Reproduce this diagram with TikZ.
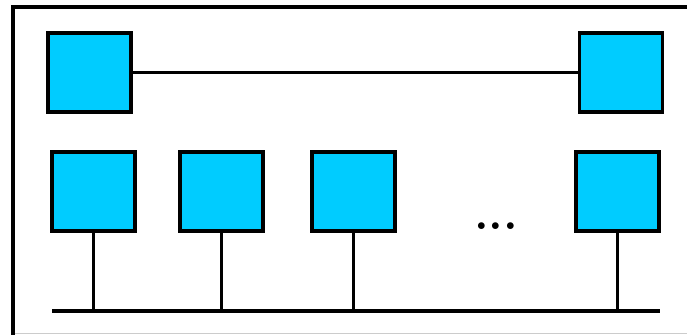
\documentclass[tikz,border=0pt]{standalone}
\usepackage{xcolor}
\usepackage{tikz}
\usetikzlibrary{calc}
\definecolor{boxcyan}{HTML}{00CCFF}
\tikzset{
  hostbox/.style={draw=black,fill=boxcyan,line width=3pt,
    minimum width=2.49cm,minimum height=2.37cm,inner sep=0pt},
  linkline/.style={line width=2.9pt},
  busline/.style={line width=3.6pt},
  frameline/.style={line width=4pt}
}

\begin{document}
\begin{tikzpicture}[x=0.03cm,y=-0.03cm]
  \useasboundingbox (0,0) rectangle (687,335);
  % outer frame (cut at right and bottom)
  \draw[frameline] (687,7) -- (13,7) -- (13,335);
  \draw[black!20,line width=0.6pt] (15,333) -- (687,333);
  % top pair
  \node[hostbox] (server1) at (89.5,72.5) {};
  \node[hostbox] (server2) at (621,72.5) {};
  \draw[linkline] (server1) -- (server2);
  % bottom row on the bus
  \node[hostbox] (host1) at (93.5,191.5) {};
  \node[hostbox] (host2) at (221.5,191.5) {};
  \node[hostbox] (host3) at (353.5,191.5) {};
  \node[hostbox] (host4) at (617.5,191.5) {};
  \node[anchor=base,inner sep=0pt,font=\fontsize{40}{40}\selectfont\bfseries]
    (dots) at (496,229.5) {...};
  \coordinate (busL) at (52,311);
  \coordinate (busR) at (660,311);
  \draw[busline] (busL) -- (busR);
  \foreach \h in {host1,host2,host3,host4}
    \draw[linkline] (\h.south) -- (\h.south |- busL);
\end{tikzpicture}
\end{document}
